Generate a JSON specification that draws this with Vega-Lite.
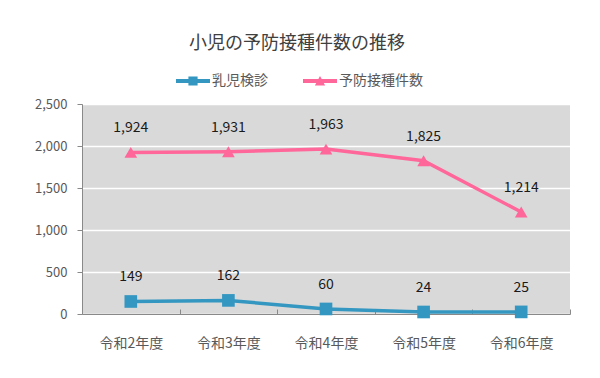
{
  "$schema": "https://vega.github.io/schema/vega-lite/v6.json",
  "width": 488,
  "height": 210,
  "autosize": {"type": "none"},
  "padding": {"left": 82, "top": 104, "right": 30, "bottom": 64},
  "background": "white",
  "config": {"view": {"fill": "#D9D9D9", "stroke": null}, "font": "Noto Sans CJK JP"},
  "title": {"text": "小児の予防接種件数の推移", "fontSize": 18, "fontWeight": "normal", "color": "#404040", "frame": "group", "anchor": "middle", "dx": -29, "offset": 11},
  "data": {"values": [
    {"年度": "令和2年度", "区分": "乳児検診", "件数": 149},
    {"年度": "令和3年度", "区分": "乳児検診", "件数": 162},
    {"年度": "令和4年度", "区分": "乳児検診", "件数": 60},
    {"年度": "令和5年度", "区分": "乳児検診", "件数": 24},
    {"年度": "令和6年度", "区分": "乳児検診", "件数": 25},
    {"年度": "令和2年度", "区分": "予防接種件数", "件数": 1924},
    {"年度": "令和3年度", "区分": "予防接種件数", "件数": 1931},
    {"年度": "令和4年度", "区分": "予防接種件数", "件数": 1963},
    {"年度": "令和5年度", "区分": "予防接種件数", "件数": 1825},
    {"年度": "令和6年度", "区分": "予防接種件数", "件数": 1214}
  ]},
  "encoding": {
    "x": {"field": "年度", "type": "ordinal", "sort": null,
      "scale": {"type": "band", "paddingInner": 0, "paddingOuter": 0},
      "axis": {"title": null, "labelAngle": 0, "labelFontSize": 14, "labelColor": "#595959", "domainColor": "#898989", "tickColor": "#898989", "tickSize": -5, "tickBand": "extent", "labelPadding": 27, "grid": false}},
    "y": {"field": "件数", "type": "quantitative",
      "scale": {"domain": [0, 2500]},
      "axis": {"title": null, "values": [0, 500, 1000, 1500, 2000, 2500], "format": ",.0f", "labelFontSize": 13, "labelColor": "#595959", "domainColor": "#898989", "tickColor": "#898989", "tickSize": 5, "labelPadding": 10, "gridColor": "white", "gridWidth": 1.5}}
  },
  "layer": [
    {"mark": {"type": "line", "strokeWidth": 3.5},
      "encoding": {"color": {"field": "区分", "type": "nominal",
        "scale": {"domain": ["乳児検診", "予防接種件数"], "range": ["#3497C1", "#FF6699"]},
        "legend": {"title": null, "orient": "none", "legendX": 94, "legendY": -40, "direction": "horizontal", "labelFontSize": 14, "labelColor": "#595959", "symbolSize": 1156, "symbolStrokeWidth": 0, "columnPadding": 35, "labelOffset": 2,
          "encode": {"symbols": {"update": {
            "shape": {"signal": "datum.value === '乳児検診' ? 'M-1,-0.12H1V0.12H-1Z M-0.27,-0.27H0.27V0.27H-0.27Z' : 'M-1,-0.12H1V0.12H-1Z M-0.3,0.27L0,-0.3L0.3,0.27Z'"},
            "fill": {"signal": "datum.value === '乳児検診' ? '#3497C1' : '#FF6699'"},
            "stroke": {"value": "transparent"},
            "opacity": {"value": 1}}}}}}}},
    {"transform": [{"filter": "datum['区分'] === '乳児検診'"}],
      "mark": {"type": "point", "filled": true, "opacity": 1, "size": 160, "shape": "square", "color": "#3497C1"}},
    {"transform": [{"filter": "datum['区分'] === '予防接種件数'"}],
      "mark": {"type": "point", "filled": true, "opacity": 1, "size": 160, "shape": "triangle-up", "color": "#FF6699"}},
    {"mark": {"type": "text", "dy": -24, "fontSize": 14, "color": "#1a1a1a"},
      "encoding": {"text": {"field": "件数", "type": "quantitative", "format": ","}}}
  ]
}
